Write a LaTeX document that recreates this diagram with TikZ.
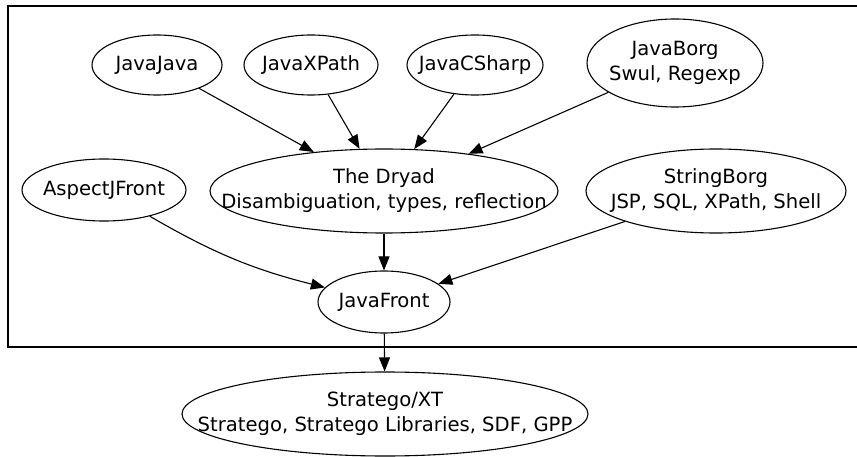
\documentclass[tikz,border=0pt]{standalone}
\usepackage{fontspec}
\setmainfont{DejaVu Sans}
\usetikzlibrary{arrows.meta, shapes.geometric}

\begin{document}
\begin{tikzpicture}[x=1pt, y=-1pt,
        every node/.style={font=\fontsize{19.6}{25}\selectfont},
        every label/.style={align=center, inner sep=0pt},
        mod/.style={draw, ellipse, line width=1.1pt, inner sep=0pt},
        dep/.style={-{Triangle[length=14pt, width=11pt]}, line width=1.1pt},
      ]
        \clip (0,0) rectangle (857,457);
        \useasboundingbox (0,0) rectangle (857,457);
        \draw[line width=1.1pt] (8,6) rectangle (870,347);

        \node[mod, minimum width=130, minimum height=60, label=center:{JavaJava}]   (javajava)   at (157,65)  {};
        \node[mod, minimum width=134, minimum height=60, label=center:{JavaXPath}]  (javaxpath)  at (311,65)  {};
        \node[mod, minimum width=136, minimum height=60, label=center:{JavaCSharp}] (javacsharp) at (475,65)  {};
        \node[mod, minimum width=176, minimum height=88,
              label=center:{JavaBorg\\Swul, Regexp}]                              (javaborg)   at (675,63)  {};
        \node[mod, minimum width=348, minimum height=84,
              label=center:{The Dryad\\Disambiguation, types, reflection}]        (dryad)      at (384,191) {};
        \node[mod, minimum width=164, minimum height=62, label=center:{AspectJFront}] (aspectj) at (104,190) {};
        \node[mod, minimum width=260, minimum height=84,
              label=center:{StringBorg\\JSP, SQL, XPath, Shell}]                  (stringborg) at (716,191) {};
        \node[mod, minimum width=132, minimum height=62, label=center:{JavaFront}]  (javafront)  at (384,302) {};
        \node[mod, minimum width=406, minimum height=84,
              label=center:{Stratego/XT\\Stratego, Stratego Libraries, SDF, GPP}] (stratego)   at (385,414) {};

        \draw[dep] (javajava)   -- (dryad);
        \draw[dep] (javaxpath)  -- (dryad);
        \draw[dep] (javacsharp) -- (dryad);
        \draw[dep] (javaborg)   -- (dryad);
        \draw[dep] (aspectj)    to[bend right=8] (javafront);
        \draw[dep] (dryad)      -- (javafront);
        \draw[dep] (stringborg) -- (javafront);
        \draw[dep] (javafront)  -- (stratego);
      \end{tikzpicture}
\end{document}
